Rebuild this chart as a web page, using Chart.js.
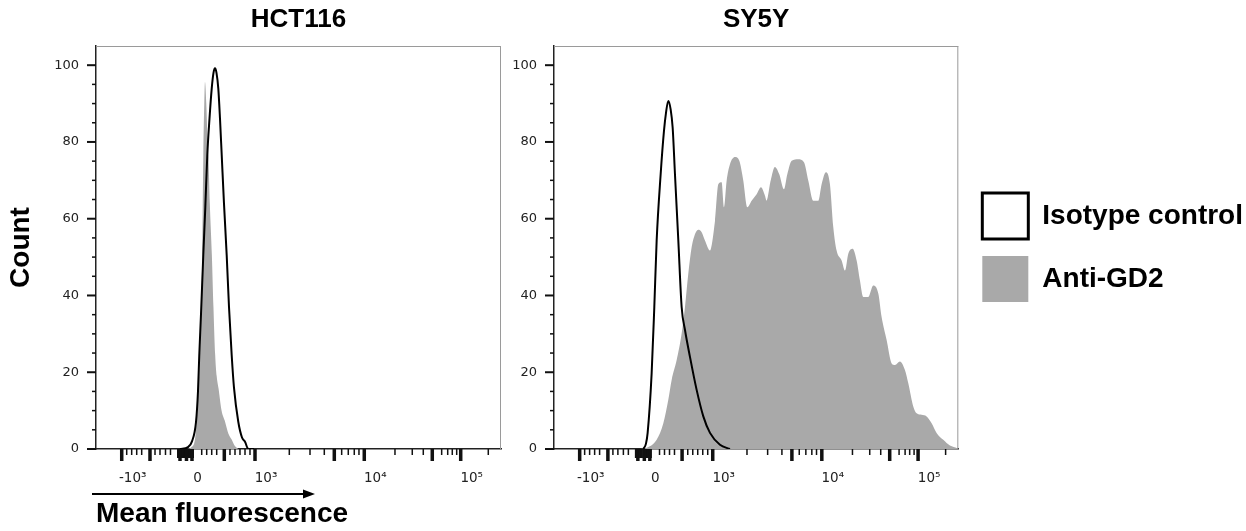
<!DOCTYPE html>
<html><head><meta charset="utf-8">
<script src="https://cdn.jsdelivr.net/npm/chart.js@4"></script>
<style>
html,body{margin:0;padding:0;background:#fff;width:1246px;height:531px;overflow:hidden;position:relative}
#wrapA{position:absolute;left:0;top:0;width:505px;height:531px}
#wrapB{position:absolute;left:505px;top:0;width:751px;height:531px}
canvas{display:block}
</style></head><body>
<div id="wrapA"><canvas id="cA" width="505" height="531"></canvas></div>
<div id="wrapB"><canvas id="cB" width="751" height="531"></canvas></div>
<script>
// ---- data (x in display channels 0-1000 of the biexponential axis, y = count) ----
const panelTitles = ['HCT116', 'SY5Y'];
const seriesNames = ['Isotype control', 'Anti-GD2'];

const hctIsoX = [207.4, 227.2, 237.0, 246.9, 251.8, 255.0, 259.2, 264.9, 269.9, 274.8, 280.2, 285.7, 290.1, 293.8, 297.5, 302.0, 306.2, 310.4, 316.0, 322.7, 328.4, 335.0, 340.7, 351.3, 360.5, 367.9, 376.0, 390.0];
const hctIsoY = [0, 0.5, 2, 7, 15, 24.5, 35, 50.5, 63, 76.6, 86, 93.9, 98, 99.2, 98, 93.9, 86, 76.6, 64, 50.5, 37, 24.5, 16, 7.1, 3, 1.9, 0, 0];

const hctGd2X = [225, 236, 244.4, 248.6, 252.5, 256.8, 260, 262.5, 265, 267.3, 269.1, 272.3, 275.3, 277.7, 281, 286.1, 290, 294.3, 298, 302.5, 310, 319, 327, 335, 343, 352];
const hctGd2Y = [0, 0.5, 2.5, 7.1, 15, 24.5, 38, 50.5, 76.6, 90, 95.6, 90, 81, 76, 64, 50.5, 37, 24.5, 19, 15.8, 10, 7, 4, 2.5, 0.8, 0];

const syIsoX = [220.9, 227.5, 231.6, 241.5, 248.1, 253.9, 263.8, 272.0, 277.0, 282.7, 288.5, 293.5, 299.2, 307.5, 315.7, 324.0, 336.3, 352.8, 369.3, 385.8, 410.5, 435.2];
const syIsoY = [0, 1.4, 4.2, 19.7, 37.0, 54.3, 71.6, 82.9, 87.6, 90.7, 88.5, 83.7, 71.6, 54.3, 37.0, 31.0, 24.0, 15.4, 8.5, 4.2, 1.1, 0];

const syGd2X = [215, 229.2, 253.9, 270.4, 282.7, 291.0, 303.4, 315.7, 324.0, 332.2, 340.5, 346.2, 356.9, 365.2, 373.4, 385.8, 398.2, 406.4, 414.6, 420.4, 427.0, 435.2, 447.6, 458.3, 468.2, 478.1, 488.8, 501.2, 511.9, 521.8, 525.9, 535.8, 546.5, 557.2, 568.8, 577.0, 587.8, 604.2, 618.3, 629.0, 641.3, 653.7, 661.9, 672.7, 682.5, 690.8, 699.0, 711.4, 719.6, 727.9, 738.6, 748.5, 756.7, 765.0, 777.3, 789.7, 802.1, 810.3, 822.7, 835.1, 843.3, 855.7, 868.0, 876.3, 888.6, 896.9, 909.2, 921.6, 934.0, 946.3, 962.8, 979.3, 997.4, 1000];
const syGd2Y = [0, 0.3, 2.4, 6.7, 12.8, 18.0, 23.2, 30.1, 37.0, 45.7, 52.6, 55.2, 57.1, 56.5, 54.3, 51.7, 59.5, 69.0, 69.5, 63.0, 69.9, 74.2, 76.1, 75.1, 69.9, 63.0, 64.7, 66.4, 68.2, 66.0, 64.7, 69.9, 73.5, 71.6, 67.7, 71.6, 75.1, 75.5, 74.7, 69.9, 64.7, 64.7, 69.0, 72.1, 69.0, 57.8, 51.7, 49.1, 46.5, 50.9, 52.2, 49.1, 43.9, 39.6, 39.6, 42.6, 40.5, 34.4, 28.4, 22.3, 21.9, 22.8, 20.6, 17.1, 11.1, 9.3, 8.9, 8.5, 6.7, 4.2, 2.4, 0.9, 0.2, 0];

// ---- axis ticks ----
const xLabelPositions = [63.5, 223.4, 392.6, 662.4, 900.5];
const xTickLabels = ['-10\u00B3', '0', '10\u00B3', '10\u2074', '10\u2075'];
const xMajorMarks = [63.5, 133.3, 207.4, 223.4, 237.0, 316.8, 392.6, 588.4, 662.4, 830.3, 900.5];
const xClusterMarks = [202.5, 206.2, 209.9, 213.6, 217.3, 221.0, 224.7, 228.4, 232.1, 235.8, 239.5];
const xMinorMarks = [75.8, 88.1, 100.5, 112.8, 145.7, 158.0, 171.6, 183.9, 261.0, 273.3, 285.7, 298.0, 330.8, 343.2, 355.5, 367.9, 380.2, 477.3, 528.4, 563.7, 606.6, 622.9, 637.7, 649.3, 738.2, 780.9, 808.1, 853.5, 868.4, 879.7, 890.6, 968.6];
const yTickValues = [0, 20, 40, 60, 80, 100];
const yMinorMarks = [5, 10, 15, 25, 30, 35, 45, 50, 55, 65, 70, 75, 85, 90, 95];

const pts = (xs, ys) => xs.map((x, i) => ({x: x, y: ys[i]}));

const axisMarks = {
  id: 'axisMarks',
  afterDraw(chart) {
    const ctx = chart.ctx, a = chart.chartArea, xs = chart.scales.x, ys = chart.scales.y;
    ctx.save();
    ctx.fillStyle = '#9a9a9a';
    ctx.fillRect(a.left, a.top, a.right - a.left, 1);
    ctx.fillRect(a.right - 1, a.top, 1, a.bottom - a.top);
    ctx.fillStyle = '#111';
    const xMark = (v, len, w) => { const p = xs.getPixelForValue(v); ctx.fillRect(p - w / 2, a.bottom, w, len); };
    const yMark = (v, len, w) => { const p = ys.getPixelForValue(v); ctx.fillRect(a.left - len, p - w / 2, len, w); };
    xMinorMarks.forEach(v => xMark(v, 6, 1.5));
    xClusterMarks.forEach(v => xMark(v, 9, 2));
    xMajorMarks.forEach(v => xMark(v, 12, 3.5));
    yMinorMarks.forEach(v => yMark(v, 4, 1.5));
    yTickValues.forEach(v => yMark(v, 9, 2));
    ctx.restore();
  }
};

const arrowMark = {
  id: 'arrowMark',
  afterDraw(chart) {
    const ctx = chart.ctx, a = chart.chartArea, y = a.bottom + 45;
    ctx.save();
    ctx.strokeStyle = '#000'; ctx.lineWidth = 2;
    ctx.beginPath(); ctx.moveTo(a.left - 4, y); ctx.lineTo(a.left + 210, y); ctx.stroke();
    ctx.fillStyle = '#000';
    ctx.beginPath(); ctx.moveTo(a.left + 219, y); ctx.lineTo(a.left + 207, y - 4.5); ctx.lineTo(a.left + 207, y + 4.5); ctx.closePath(); ctx.fill();
    ctx.restore();
  }
};

function panel(id, title, isoX, isoY, gd2X, gd2Y, first) {
  const scales = {
    x: {
      type: 'linear', min: 0, max: 1000,
      grid: {display: false, drawTicks: false},
      border: {display: true, color: '#222', width: 1.5},
      afterBuildTicks: s => { s.ticks = xLabelPositions.map(v => ({value: v})); },
      afterFit: s => { s.height = 82; },
      ticks: {autoSkip: false, maxRotation: 0, minRotation: 0, padding: 21, labelOffset: 11,
        font: {family: 'DejaVu Sans', size: 13.5}, color: '#222',
        callback: (v, i) => xTickLabels[i]},
      title: first ? {display: true, text: 'Mean fluorescence', align: 'start', color: '#000',
        font: {family: 'Liberation Sans', size: 28, weight: 'bold'}, padding: 0} : {display: false}
    },
    y: {
      type: 'linear', min: 0, max: 105,
      grid: {display: false, drawTicks: false},
      border: {display: true, color: '#222', width: 1.5},
      afterBuildTicks: s => { s.ticks = yTickValues.map(v => ({value: v})); },
      afterFit: s => { s.width = first ? 96 : 49; },
      ticks: {padding: 17, font: {family: 'DejaVu Sans', size: 13}, color: '#222'},
      title: first ? {display: true, text: 'Count', color: '#000',
        font: {family: 'Liberation Sans', size: 28, weight: 'bold'}, padding: {top: 4, bottom: 0}} : {display: false}
    }
  };
  if (!first) {
    scales.y2 = {type: 'linear', position: 'right', display: true,
      grid: {display: false, drawTicks: false}, border: {display: false},
      ticks: {display: false}, afterFit: s => { s.width = 7; }};
  }
  return new Chart(document.getElementById(id), {
    type: 'line',
    data: {datasets: [
      {label: seriesNames[0], data: pts(isoX, isoY), borderColor: '#000', backgroundColor: '#fff',
       borderWidth: 2, fill: false, pointRadius: 0, cubicInterpolationMode: 'monotone'},
      {label: seriesNames[1], data: pts(gd2X, gd2Y), borderColor: '#a9a9a9', backgroundColor: '#a9a9a9',
       borderWidth: 0, fill: 'origin', pointRadius: 0, cubicInterpolationMode: 'monotone'}
    ]},
    options: {
      responsive: false, animation: false, events: [],
      layout: {padding: {left: 0, right: first ? 4 : 3, top: 0, bottom: 0}},
      plugins: {
        title: {display: true, text: title, fullSize: false, color: '#000',
          font: {family: 'Liberation Sans', size: 26, weight: 'bold'}, padding: {top: 4, bottom: 10.8}},
        tooltip: {enabled: false},
        legend: first ? {display: false} : {
          display: true, position: 'right', fullSize: false, align: 'center', maxWidth: 400,
          labels: {boxWidth: 46, boxHeight: 46, padding: 17, color: '#000',
            font: {family: 'Liberation Sans', size: 28, weight: 'bold'},
            generateLabels: chart => Chart.defaults.plugins.legend.labels.generateLabels(chart).map((it, i) =>
              Object.assign(it, i === 0 ? {fillStyle: '#fff', strokeStyle: '#000', lineWidth: 3}
                                        : {fillStyle: '#a9a9a9', strokeStyle: '#a9a9a9', lineWidth: 0}))}
        }
      },
      scales: scales
    },
    plugins: first ? [axisMarks, arrowMark] : [axisMarks]
  });
}

panel('cA', panelTitles[0], hctIsoX, hctIsoY, hctGd2X, hctGd2Y, true);
panel('cB', panelTitles[1], syIsoX, syIsoY, syGd2X, syGd2Y, false);
</script></body></html>
